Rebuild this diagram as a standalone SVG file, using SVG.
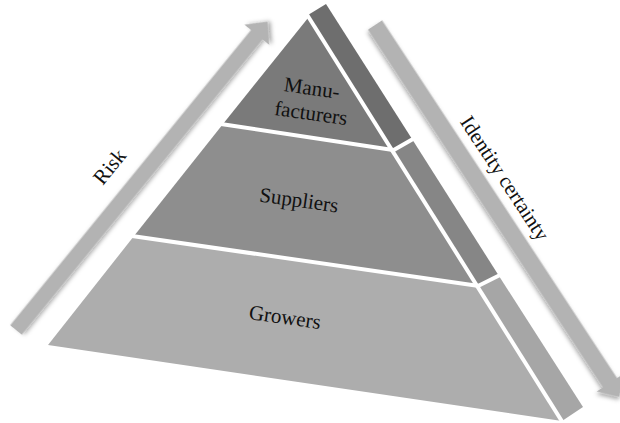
<svg xmlns="http://www.w3.org/2000/svg" width="620" height="423" viewBox="0 0 620 423">
  <defs>
    <filter id="shadow" x="-20%" y="-20%" width="140%" height="140%">
      <feDropShadow dx="2" dy="2" stdDeviation="2" flood-color="#000" flood-opacity="0.35"/>
    </filter>
  </defs>
  <style>
    .lbl { font-family: "Liberation Serif", "Times New Roman", serif; font-size: 21px; fill: #111; text-anchor: middle; }
    .arrow { fill: #b3b3b3; filter: url(#shadow); }
    .sep { stroke: #fff; stroke-width: 4; fill: none; stroke-linecap: butt; }
  </style>
  <rect width="620" height="423" fill="#fff"/>

  <g id="connectors">
    <g id="risk-arrow">
      <path class="arrow" transform="translate(16,330) rotate(-50.8)" d="M0,-7.5 L381,-7.5 L381,-16 L398,0 L381,16 L381,7.5 L0,7.5 Z"/>
      <text class="lbl" transform="translate(115,171) rotate(-50.8)">Risk</text>
    </g>
    <g id="identity-arrow">
      <path class="arrow" transform="translate(375,25) rotate(56.7)" d="M0,-8.5 L428,-8.5 L428,-16 L445,0 L428,16 L428,8.5 L0,8.5 Z"/>
      <text class="lbl" transform="translate(499,182) rotate(56.7)">Identity certainty</text>
    </g>
  </g>

  <g id="side-strip">
    <polygon points="308,15 326,4 412,139 392,150" fill="#6e6e6e"/>
    <polygon points="392,150 412,139 499,276 478,285" fill="#868686"/>
    <polygon points="478,285 499,276 583,407 562,421" fill="#a6a6a6"/>
  </g>

  <g id="manufacturers">
    <polygon points="308,18 223,124 392,150" fill="#7a7a7a"/>
    <text class="lbl" transform="translate(311,95) rotate(8)">Manu-</text>
    <text class="lbl" transform="translate(310,120) rotate(8)">facturers</text>
  </g>

  <g id="suppliers">
    <polygon points="223,124 392,150 478,285 134,236" fill="#8e8e8e"/>
    <text class="lbl" transform="translate(298,207) rotate(8)">Suppliers</text>
  </g>

  <g id="growers">
    <polygon points="134,236 478,285 562,421 48,345" fill="#adadad"/>
    <text class="lbl" transform="translate(284,324) rotate(8)">Growers</text>
  </g>

  <g id="separators">
    <line class="sep" x1="306" y1="13" x2="563" y2="423"/>
    <line class="sep" x1="221" y1="124" x2="393" y2="150"/>
    <line class="sep" x1="132" y1="236" x2="479" y2="286"/>
    <line class="sep" x1="392" y1="151" x2="413" y2="139"/>
    <line class="sep" x1="478" y1="286" x2="500" y2="275"/>
  </g>
</svg>
